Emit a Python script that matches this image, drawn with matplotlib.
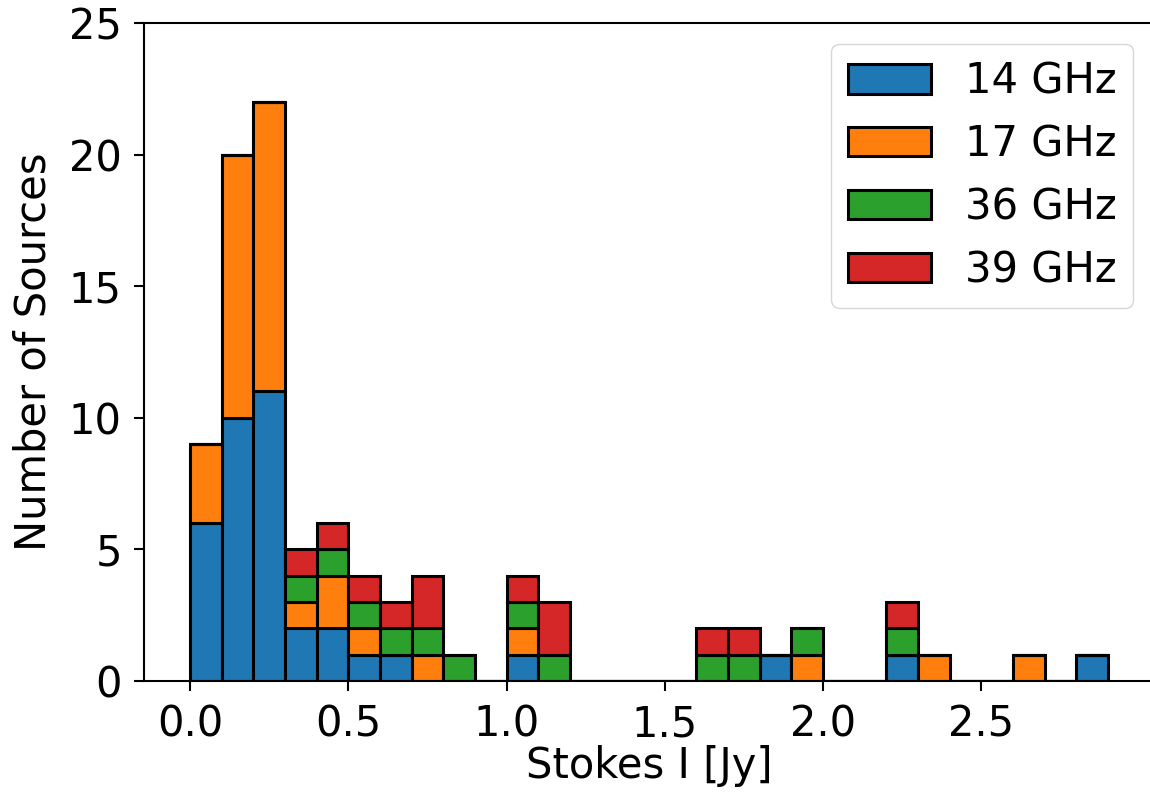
import matplotlib
matplotlib.use("Agg")
import matplotlib.pyplot as plt
import numpy as np

# bins of 0.1 Jy from 0.0 to 2.9
bin_edges = np.round(np.arange(0.0, 2.9001, 0.1), 2)
bin_width = 0.1

labels = ["14 GHz", "17 GHz", "36 GHz", "39 GHz"]
colors = ["#1f77b4", "#ff7f0e", "#2ca02c", "#d62728"]

# counts per bin, 29 bins
counts_14 = [6, 10, 11, 2, 2, 1, 1, 0, 0, 0, 1, 0, 0, 0, 0, 0, 0, 0, 1, 0, 0, 0, 1, 0, 0, 0, 0, 0, 1]
counts_17 = [3, 10, 11, 1, 2, 1, 0, 1, 0, 0, 1, 0, 0, 0, 0, 0, 0, 0, 0, 1, 0, 0, 0, 1, 0, 0, 1, 0, 0]
counts_36 = [0, 0, 0, 1, 1, 1, 1, 1, 1, 0, 1, 1, 0, 0, 0, 0, 1, 1, 0, 1, 0, 0, 1, 0, 0, 0, 0, 0, 0]
counts_39 = [0, 0, 0, 1, 1, 1, 1, 2, 0, 0, 1, 2, 0, 0, 0, 0, 1, 1, 0, 0, 0, 0, 1, 0, 0, 0, 0, 0, 0]

plt.rcParams['font.size'] = 30

fig = plt.figure(figsize=(11.5, 7.95), dpi=100)
ax = fig.add_axes([144 / 1150, (795 - 681) / 795, 1010 / 1150, 658 / 795])

lefts = bin_edges[:-1]
bottom = np.zeros(len(lefts))
for counts, color, label in zip([counts_14, counts_17, counts_36, counts_39], colors, labels):
    counts = np.array(counts)
    ax.bar(lefts, counts, width=bin_width, align='edge', bottom=bottom,
           color=color, edgecolor='black', linewidth=2.2, label=label)
    bottom = bottom + counts

ax.set_ylim(0, 25)
ax.set_yticks([0, 5, 10, 15, 20, 25])
ax.set_xticks([0.0, 0.5, 1.0, 1.5, 2.0, 2.5])
ax.set_xticklabels(["0.0", "0.5", "1.0", "1.5", "2.0", "2.5"])
ax.set_xlabel("Stokes I [Jy]", fontsize=30, labelpad=0)
ax.set_ylabel("Number of Sources", fontsize=30, labelpad=10)
ax.tick_params(length=7, width=1.5, pad=9, labelsize=30)
for s in ax.spines.values():
    s.set_linewidth(1.5)

ax.legend(loc='upper right', fontsize=30)

fig.savefig("out.png", dpi=100)
